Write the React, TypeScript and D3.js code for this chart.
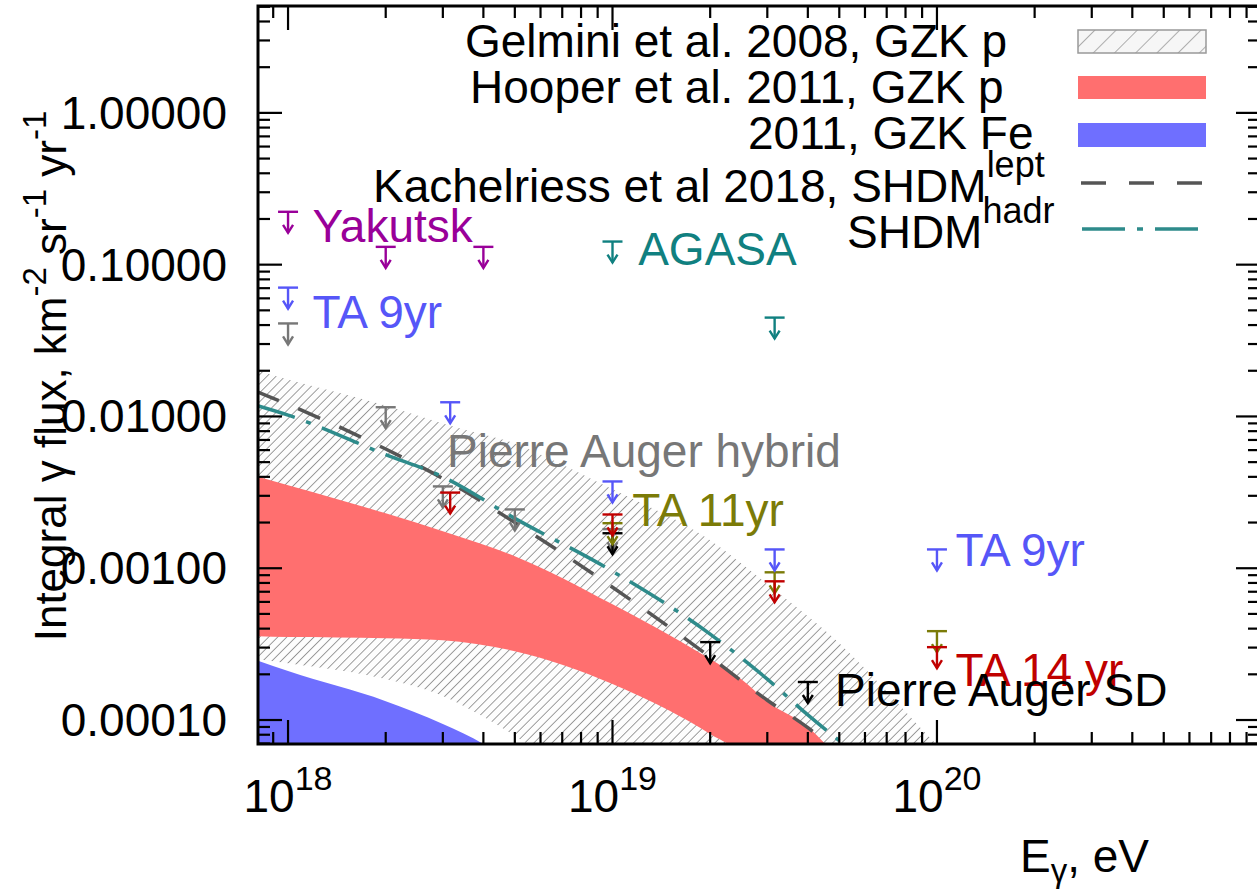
import React from 'react';
import * as d3 from 'd3';

const W = 1257;
const H = 893;
const FONT = "'Liberation Sans', Arial, Helvetica, sans-serif";

// ---- Bands (energy grid, upper flux, lower flux) ----
const gelminiE = [8e17, 1e18, 2e18, 3e18, 4e18, 5e18, 6e18, 1e19, 2e19, 3e19, 5e19, 7e19, 1e20, 1.2e20];
const gelminiHigh = [0.0201, 0.0175, 0.0118, 0.009, 0.0076, 0.00664, 0.00562, 0.00331, 0.00153, 0.000785, 0.000321, 0.000155, 0.0000685, 0.000047];
const gelminiLow = [2.52e-4, 2.37e-4, 1.86e-4, 1.44e-4, 1.05e-4, 7.85e-5, 5.97e-5, 1e-5, 1e-5, 1e-5, 1e-5, 1e-5, 1e-5, 1e-5];

const hooperE = [8e17, 1e18, 2e18, 3e18, 5e18, 1e19, 1.5e19, 2e19, 2.5e19, 3e19, 4e19, 5e19];
const hooperHigh = [4.03e-3, 3.52e-3, 2.3e-3, 1.75e-3, 1.2e-3, 5.79e-4, 3.62e-4, 2.52e-4, 1.85e-4, 1.32e-4, 9.0e-5, 5.5e-5];
const hooperLow = [3.57e-4, 3.52e-4, 3.46e-4, 3.36e-4, 2.84e-4, 1.73e-4, 1.15e-4, 8.09e-5, 5.8e-5, 3e-5, 2e-5, 1e-5];

const feE = [8e17, 1e18, 2e18, 3e18, 4e18, 5e18];
const feHigh = [2.48e-4, 2.1e-4, 1.33e-4, 9.42e-5, 6.95e-5, 5e-5];
const feLow = [1e-5, 1e-5, 1e-5, 1e-5, 1e-5, 1e-5];

// ---- SHDM lines ----
const shdmE = [8e17, 1e18, 2e18, 3e18, 5e18, 1e19, 2e19, 3e19, 4e19, 5e19];
const shdmLept = [0.0146, 0.012, 6.1e-3, 3.9e-3, 2.0e-3, 7.5e-4, 2.6e-4, 1.35e-4, 8.9e-5, 6.0e-5];
const shdmHadr = [0.0118, 0.0102, 5.6e-3, 4.0e-3, 2.13e-3, 9.55e-4, 3.68e-4, 1.86e-4, 1.08e-4, 7.3e-5];

// ---- Upper limits [E, flux] ----
const yakutsk = [[1e18, 0.223], [2e18, 0.131], [4e18, 0.131]];
const agasa = [[1e19, 0.142], [3.16e19, 0.0448]];
const ta9 = [[1e18, 0.0706], [3.16e18, 0.0124], [1e19, 3.73e-3], [3.16e19, 1.33e-3], [1e20, 1.33e-3]];
const augerHybrid = [[1e18, 0.041], [2e18, 0.0115], [3e18, 3.46e-3], [5e18, 2.44e-3], [1e19, 1.81e-3]];
const ta11 = [[1e19, 1.98e-3], [3.16e19, 9.4e-4], [1e20, 3.85e-4]];
const ta14 = [[3.16e18, 3.15e-3], [1e19, 2.26e-3], [3.16e19, 8.2e-4], [1e20, 3.02e-4]];
const augerSD = [[1e19, 1.7e-3], [2e19, 3.26e-4], [4e19, 1.78e-4]];

// ---- Annotation labels [text, E, flux(baseline)] ----
const labelTexts = ['Yakutsk', 'AGASA', 'TA 9yr', 'Pierre Auger hybrid', 'TA 11yr', 'TA 9yr', 'TA 14 yr', 'Pierre Auger SD'];
const labelE = [1.19e18, 1.2e19, 1.19e18, 3.09e18, 1.15e19, 1.14e20, 1.14e20, 4.85e19];
const labelF = [0.14, 0.1, 0.0385, 4.62e-3, 1.89e-3, 1.03e-3, 1.67e-4, 1.24e-4];

// ---- Ticks ----
const xMajor = [1e18, 1e19, 1e20];
const xTickExp = ['18', '19', '20'];
const yMajor = [1, 0.1, 0.01, 0.001, 0.0001];
const yTickLabels = ['1.00000', '0.10000', '0.01000', '0.00100', '0.00010'];

// ---- Legend ----
const legendMain = ['Gelmini et al. 2008, GZK p', 'Hooper et al. 2011, GZK p', '2011, GZK Fe', 'Kachelriess et al 2018, SHDM', 'SHDM'];
const legendSup = ['', '', '', 'lept', 'hadr'];

const C = {
  yakutsk: '#990099',
  agasa: '#108080',
  ta9: '#5656f8',
  hybrid: '#777777',
  ta11: '#7b7b08',
  ta14: '#c00000',
  sd: '#000000',
  red: '#ff6f6f',
  blue: '#6f6fff',
  lept: '#555555',
  hadr: '#2e8b8b',
};

const L = 258, R = 1260, T = 6, B = 744;

function Limit({ cx, cy, color }: { cx: number; cy: number; color: string }) {
  return (
    <g stroke={color} strokeWidth={2.4} fill="none">
      <line x1={cx - 10} x2={cx + 10} y1={cy} y2={cy} />
      <line x1={cx} x2={cx} y1={cy} y2={cy + 21} />
      <polyline points={`${cx - 5},${cy + 13} ${cx},${cy + 21} ${cx + 5},${cy + 13}`} />
    </g>
  );
}

export default function App() {
  const x = d3.scaleLog().domain([8.08e17, 9.9e20]).range([L, R]);
  const y = d3.scaleLog().domain([6.95e-5, 5.06]).range([B, T]);

  const band = (E: number[], hi: number[], lo: number[]) => {
    const pts = E.map((e, i) => [e, hi[i], lo[i]] as [number, number, number]);
    return d3
      .area<[number, number, number]>()
      .x((d) => x(d[0]))
      .y0((d) => y(d[2]))
      .y1((d) => y(d[1]))
      .curve(d3.curveMonotoneX)(pts) as string;
  };
  const line = (E: number[], F: number[]) =>
    d3
      .line<[number, number]>()
      .x((d) => x(d[0]))
      .y((d) => y(d[1]))
      .curve(d3.curveMonotoneX)(E.map((e, i) => [e, F[i]] as [number, number])) as string;

  const xMinor: number[] = [];
  for (let k = 17; k <= 20; k++) for (let m = 2; m <= 9; m++) {
    const v = m * Math.pow(10, k);
    if (v > 8.08e17 && v < 9.9e20) xMinor.push(v);
  }
  const yMinor: number[] = [];
  for (let k = -5; k <= 0; k++) for (let m = 2; m <= 9; m++) {
    const v = m * Math.pow(10, k);
    if (v > 6.95e-5 && v < 5.06) yMinor.push(v);
  }

  const labelColors = [C.yakutsk, C.agasa, C.ta9, C.hybrid, C.ta11, C.ta9, C.ta14, C.sd];

  const limitSets: [number[][], string][] = [
    [augerHybrid, C.hybrid],
    [augerSD, C.sd],
    [ta11, C.ta11],
    [ta9, C.ta9],
    [ta14, C.ta14],
    [yakutsk, C.yakutsk],
    [agasa, C.agasa],
  ];

  const legendY = [57, 103, 149, 202, 248];
  const legendX = [465, 470, 748, 373, 847];
  const keyY = [42, 88, 135, 183, 229];

  return (
    <svg width={W} height={H} style={{ position: 'absolute', left: 0, top: 0, background: '#fff' }} fontFamily={FONT}>
      <defs>
        <clipPath id="plotclip">
          <rect x={L} y={T} width={R - L} height={B - T} />
        </clipPath>
        <pattern id="hatch" patternUnits="userSpaceOnUse" width={6.4} height={6.4} patternTransform="rotate(45)">
          <line x1={0} y1={-1} x2={0} y2={8} stroke="#2a2a2a" strokeWidth={0.9} />
        </pattern>
        <pattern id="hatchKey" patternUnits="userSpaceOnUse" width={15} height={15} patternTransform="rotate(45)">
          <line x1={0} y1={-1} x2={0} y2={17} stroke="#666" strokeWidth={1} />
        </pattern>
      </defs>

      <rect x={0} y={0} width={W} height={H} fill="#fff" />

      <g clipPath="url(#plotclip)">
        <path d={band(gelminiE, gelminiHigh, gelminiLow)} fill="#fdfdfd" />
        <path d={band(gelminiE, gelminiHigh, gelminiLow)} fill="url(#hatch)" />
        <path d={band(hooperE, hooperHigh, hooperLow)} fill={C.red} />
        <path d={band(feE, feHigh, feLow)} fill={C.blue} />
        <path d={line(shdmE, shdmLept)} fill="none" stroke={C.lept} strokeWidth={3.5} strokeDasharray="24 21" />
        <path d={line(shdmE, shdmHadr)} fill="none" stroke={C.hadr} strokeWidth={3.5} strokeDasharray="40 12 5 12" />
        {limitSets.map(([set, col], si) =>
          set.map((d, i) => <Limit key={`${si}-${i}`} cx={x(d[0])} cy={y(d[1])} color={col} />)
        )}
      </g>

      {labelTexts.map((t, i) => (
        <text key={i} x={x(labelE[i])} y={y(labelF[i])} fill={labelColors[i]} fontSize={46}>
          {t}
        </text>
      ))}

      <g stroke="#000" strokeWidth={2.2}>
        {xMajor.map((v) => (
          <g key={`xm${v}`}>
            <line x1={x(v)} x2={x(v)} y1={B} y2={B - 24} />
            <line x1={x(v)} x2={x(v)} y1={T} y2={T + 24} />
          </g>
        ))}
        {xMinor.map((v) => (
          <g key={`xn${v}`}>
            <line x1={x(v)} x2={x(v)} y1={B} y2={B - 12} />
            <line x1={x(v)} x2={x(v)} y1={T} y2={T + 12} />
          </g>
        ))}
        {yMajor.map((v) => (
          <g key={`ym${v}`}>
            <line x1={L} x2={L + 24} y1={y(v)} y2={y(v)} />
            <line x1={R} x2={R - 24} y1={y(v)} y2={y(v)} />
          </g>
        ))}
        {yMinor.map((v) => (
          <g key={`yn${v}`}>
            <line x1={L} x2={L + 12} y1={y(v)} y2={y(v)} />
            <line x1={R} x2={R - 12} y1={y(v)} y2={y(v)} />
          </g>
        ))}
      </g>

      <rect x={L} y={T} width={R - L} height={B - T} fill="none" stroke="#000" strokeWidth={3} />

      {yMajor.map((v, i) => (
        <text key={`yl${v}`} x={227} y={y(v) + 16} textAnchor="end" fontSize={46} fill="#000">
          {yTickLabels[i]}
        </text>
      ))}
      {xMajor.map((v, i) => (
        <text key={`xl${v}`} x={x(v)} y={812} textAnchor="middle" fontSize={46} fill="#000">
          10
          <tspan dy={-22} fontSize={34}>{xTickExp[i]}</tspan>
        </text>
      ))}

      <text transform="translate(66,376) rotate(-90)" textAnchor="middle" fontSize={44} fill="#000">
        Integral γ flux, km
        <tspan dy={-20} fontSize={33}>-2</tspan>
        <tspan dy={20}> sr</tspan>
        <tspan dy={-20} fontSize={33}>-1</tspan>
        <tspan dy={20}> yr</tspan>
        <tspan dy={-20} fontSize={33}>-1</tspan>
      </text>
      <text x={1020} y={872} fontSize={46} fill="#000">
        E
        <tspan dy={10} fontSize={33}>γ</tspan>
        <tspan dy={-10}>, eV</tspan>
      </text>

      {legendMain.map((t, i) => (
        <text key={`lg${i}`} x={legendX[i]} y={legendY[i]} fontSize={46} fill="#000">
          {t}
          {legendSup[i] ? <tspan dy={-25} fontSize={36}>{legendSup[i]}</tspan> : null}
        </text>
      ))}
      <rect x={1078} y={keyY[0] - 12} width={128} height={23} fill="#f6f6f6" />
      <rect x={1078} y={keyY[0] - 12} width={128} height={23} fill="url(#hatchKey)" stroke="#999" strokeWidth={1.5} />
      <rect x={1078} y={keyY[1] - 12} width={128} height={23} fill={C.red} />
      <rect x={1078} y={keyY[2] - 12} width={128} height={24} fill={C.blue} />
      <line x1={1081} x2={1206} y1={keyY[3]} y2={keyY[3]} stroke={C.lept} strokeWidth={3.5} strokeDasharray="25 23" />
      <line x1={1082} x2={1202} y1={keyY[4]} y2={keyY[4]} stroke={C.hadr} strokeWidth={3.5} strokeDasharray="43 12 6 12" />
    </svg>
  );
}
